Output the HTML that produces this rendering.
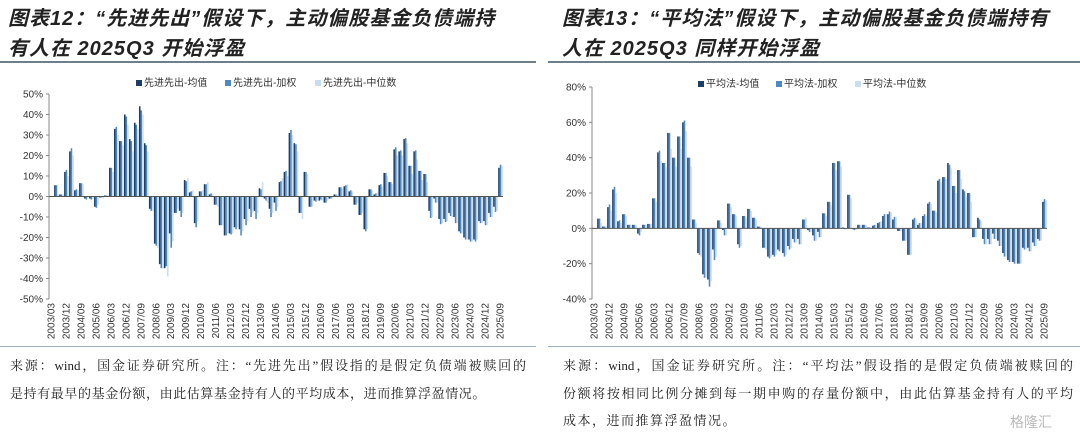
<!DOCTYPE html>
<html><head><meta charset="utf-8"><style>
body{margin:0;width:1080px;height:440px;background:#fff;overflow:hidden;position:relative;font-family:"Liberation Sans","Noto Sans CJK SC",sans-serif}
.title{position:absolute;top:4px;font-size:20px;font-weight:bold;font-style:italic;line-height:30px;color:#222;letter-spacing:1px}
.rule{position:absolute;top:61px;height:2px;background:#6d7f8f}
.rule2{position:absolute;top:346px;height:1px;background:#9fb0bf}
.note{position:absolute;font-size:13px;line-height:27px;color:#222;font-family:"Liberation Serif","Noto Serif CJK SC",serif;white-space:nowrap}
.j{text-align:justify;text-align-last:justify}
svg{position:absolute;top:0}
svg text{font-family:"Liberation Sans","Noto Sans CJK SC",sans-serif}
</style></head><body>
<div class="title" style="left:8px">图表12：“先进先出”假设下，主动偏股基金负债端持<br>有人在 2025Q3 开始浮盈</div>
<div class="title" style="left:562px">图表13：“平均法”假设下，主动偏股基金负债端持有<br>人在 2025Q3 同样开始浮盈</div>
<div class="rule" style="left:0;width:536px"></div>
<div class="rule" style="left:548px;width:532px"></div>
<div class="rule2" style="left:0;width:536px"></div>
<div class="rule2" style="left:548px;width:532px"></div>
<div class="note j" style="left:10px;top:352px;width:516px">来源：wind，国金证券研究所。注：“先进先出”假设指的是假定负债端被赎回的</div>
<div class="note" style="left:10px;top:380px;letter-spacing:0.6px">是持有最早的基金份额，由此估算基金持有人的平均成本，进而推算浮盈情况。</div>
<div class="note j" style="left:563px;top:352px;width:510px">来源：wind，国金证券研究所。注：“平均法”假设指的是假定负债端被赎回的</div>
<div class="note j" style="left:563px;top:380px;width:510px">份额将按相同比例分摊到每一期申购的存量份额中，由此估算基金持有人的平均</div>
<div class="note" style="left:563px;top:407px;letter-spacing:1.5px">成本，进而推算浮盈情况。</div>
<div style="position:absolute;left:1010px;top:412px;font-size:14px;color:#bbb">格隆汇</div>
<svg id="c1" width="540" height="345" style="left:0"></svg>
<svg id="c2" width="540" height="345" style="left:540px"></svg>
<script>
const quarterLabels=["2003/03","2003/12","2004/09","2005/06","2006/03","2006/12","2007/09","2008/06","2009/03","2009/12","2010/09","2011/06","2012/03","2012/12","2013/09","2014/06","2015/03","2015/12","2016/09","2017/06","2018/03","2018/12","2019/09","2020/06","2021/03","2021/12","2022/09","2023/06","2024/03","2024/12","2025/09"];
const fifoMean=[0,5.5,1,12,22,3,6.5,-1,-1,-5,-0.5,0.5,14,33,27,40,28,36,44,26,-6,-23,-33,-35,-18,-8,-7,8,2,-13,2.5,6,1,-4,-14,-19,-18,-15,-16,-11,-6,-7,4,-1,-6,-3,7,12,31,26,-8,12,-5,-2,-2,-3,-1,1,4.5,5,2.5,-4,-9,-16,3.5,1,5.5,11.5,7,23,22,28,15,22,12.5,11,-7,-1,-11,-11,-8,-10,-17,-20,-21,-21,-12,-12,-8,-5,14];
const fifoWeighted=[0,5.5,1,13,23.5,3.5,6.5,-1.5,-1.5,-5.5,-0.5,0.5,14,34,27,39,27,35,42,25,-7,-24,-35,-34,-25,-8,-10,7.5,2.5,-15,2.5,6,1.5,-4,-14,-19,-18.5,-16,-19,-14,-10,-11,3.5,-2,-10,-7,7.5,12.5,32.5,25.5,-8,12,-5,-2.5,-1.5,-3,-1,1,4.5,5.5,3,-4,-9,-17,3.5,1.5,6,11.5,7,24,22.5,28.5,15,22.5,12.5,11,-10.5,-3,-13.5,-12.5,-9.5,-13,-18,-21,-22,-22,-13,-14,-10,-7.5,15.5];
const fifoMedian=[0,1,1,10,20,3,6,0,-1,-4,-1,1,12,30,25,35,22,33,40,22,-7,-25,-35,-39,-22,-6,-8,9,3,-12,3,7,1,-5,-14,-18,-18,-15,-17,-12,-8,-8,7,-3,-8,-5,9,10,30,22,-11,11,-5,-2,-2,-2,-1,1,4,6,2.5,-3,-8,-16,3,2,5,10,6,20,20,26,11,18,8,7,-10,-3,-13,-12,-10,-13,-18,-21,-22,-21,-13,-14,-10,-7,15];
const avgMean=[0,5.5,1,12,22,4,8,2,2,-3,2,2.5,17,43,37,54,40,52,60,40,5,-14,-26,-29,-12,4.5,-1,14,8,-9,7,11,6,1,-11,-16,-15,-12,-14,-10,-6,-6,5,-1,-4,-2,8.5,15,37,38,0.5,19,-0.5,2,2,0.5,1.5,3,7,8,5,-1.5,-7,-15,5,2,7,14,10,27,29,37,24,33,22,20,-5,6,-6,-6,-3,-7,-14,-18,-19,-20,-11,-11,-8,-6,15];
const avgWeighted=[0,5.5,1,13.5,23.5,4.5,8,2,2,-4,2,2.5,17,44,37,54,40,52,61,40,5,-15,-28,-33,-18,4.5,-4,14,8,-11,7,11,6,1,-11,-17,-16,-13,-16,-12,-8,-9,5,-2,-7,-5,8.5,15,37,38,-0.5,19,-1,2,2,0.5,2,3.5,8,9.5,6.5,-1.5,-7,-15,6,3,8,15,10,28,29,36,24,33,21,20,-5,5,-9,-9,-6,-10,-16,-19,-20,-20,-12,-13,-10,-7,16.5];
const avgMedian=[0,3,1,10,20,3,7,2,2,-2,2,2.5,15,38,35,45,35,45,55,35,3,-16,-28,-30,-16,3,-4,12,7,-10,6,10,5,1,-12,-16,-15,-12,-15,-11,-8,-9,6,-2,-7,-5,7,13,33,35,-0.5,17,-1,2,2,0.5,2,4,8,9,6.5,-1.5,-7,-15,5,3,7,14,9,26,28,34,20,28,18,15,-5,4,-9,-9,-6,-10,-16,-19,-20,-20,-12,-13,-10,-7,16];
const fifoTicks=[50,40,30,20,10,0,-10,-20,-30,-40,-50];
const avgTicks=[80,60,40,20,0,-20,-40];
const fifoNames=["先进先出-均值","先进先出-加权","先进先出-中位数"];
const avgNames=["平均法-均值","平均法-加权","平均法-中位数"];
const colors=["#1b3f66","#4f88c4","#c9dcf0"];
const NS="http://www.w3.org/2000/svg";
function mk(svg,tag,attrs){const e=document.createElementNS(NS,tag);for(const k in attrs)e.setAttribute(k,attrs[k]);svg.appendChild(e);return e;}
function draw(id,series,names,ticks,cfg){
  const svg=document.getElementById(id);
  const n=series[0].length;
  const ymax=ticks[0],ymin=ticks[ticks.length-1];
  const y=v=>cfg.top+(ymax-v)/(ymax-ymin)*(cfg.bottom-cfg.top);
  const step=(cfg.right-cfg.left)/n;
  const x=i=>cfg.left+(i+0.5)*step;
  const ax=mk(svg,'line',{x1:cfg.left,x2:cfg.left,y1:cfg.top,y2:cfg.bottom,stroke:'#888','stroke-width':1});
  
  
  ticks.forEach(t=>{
    const tk=mk(svg,'line',{x1:cfg.left-3,x2:cfg.left,y1:y(t),y2:y(t),stroke:'#888'});
    
    
    const tl=mk(svg,'text',{x:cfg.left-6,y:y(t)+3.5,'text-anchor':'end','font-size':10,fill:'#333'});
    tl.textContent=t+'%';
    
    
  });
  const bw=step/3.2;
  series.forEach((s,k)=>{
    s.forEach((v,i)=>{
      const x0=x(i)-1.5*bw+k*bw;
      const r=mk(svg,'rect',{x:x0,y:Math.min(y(v),y(0)),width:bw,height:Math.max(Math.abs(y(v)-y(0)),0.01),fill:colors[k]});
      
      
    });
  });
  const zl=mk(svg,'line',{x1:cfg.left,x2:cfg.right,y1:y(0),y2:y(0),stroke:'#555','stroke-width':1});
  
  
  quarterLabels.forEach((lab,j)=>{
    const xi=x(j*3)+3;
    const t=mk(svg,'text',{x:0,y:0,'text-anchor':'end','font-size':10,fill:'#333',transform:`translate(${xi},${cfg.bottom+4}) rotate(-90)`});
    t.textContent=lab;
    
    
  });
  names.forEach((nm,k)=>{
    const lx=cfg.legendX[k];
    const sq=mk(svg,'rect',{x:lx,y:cfg.legendY-6,width:6,height:6,fill:colors[k]});
    
    
    const lt=mk(svg,'text',{x:lx+8,y:cfg.legendY,'font-size':10,fill:'#333'});
    lt.textContent=nm;
    
    
  });
}
draw('c1',[fifoMean,fifoWeighted,fifoMedian],fifoNames,fifoTicks,{left:49,right:503,top:94,bottom:299,legendX:[136,225,315],legendY:86});
draw('c2',[avgMean,avgWeighted,avgMedian],avgNames,avgTicks,{left:52,right:507,top:87,bottom:299,legendX:[158,236,315],legendY:87});
</script>
</body></html>
